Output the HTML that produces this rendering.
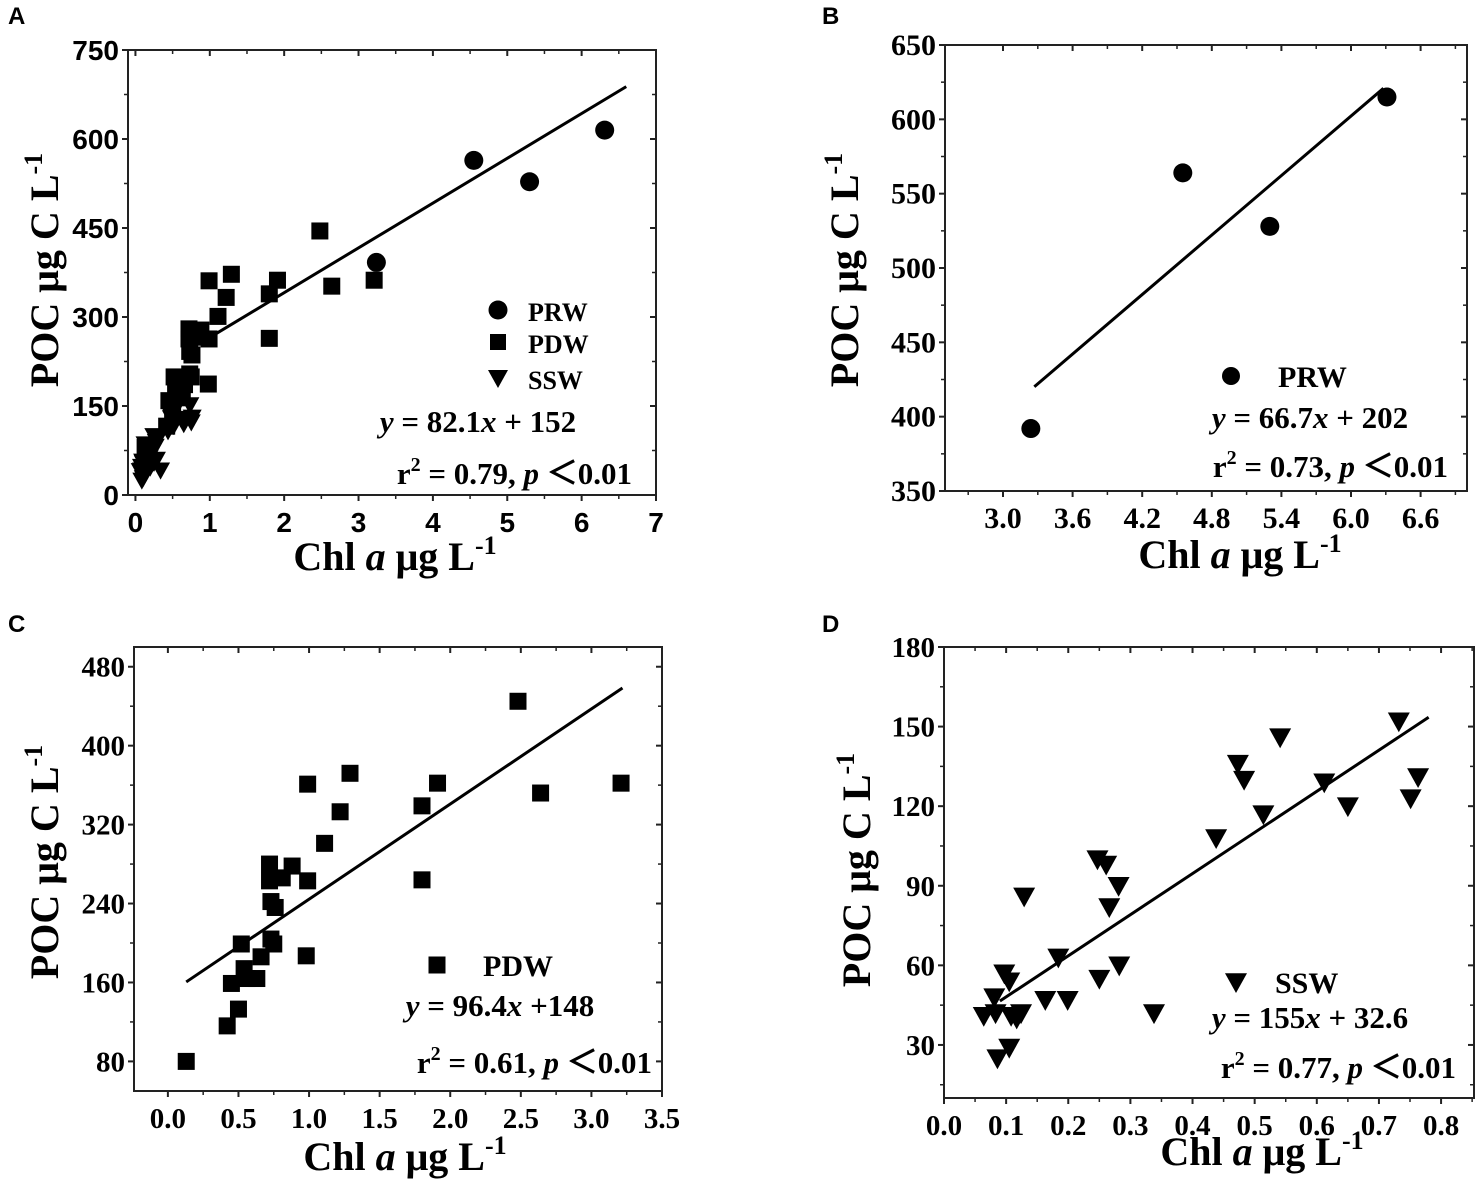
<!DOCTYPE html>
<html><head><meta charset="utf-8"><style>
body{margin:0;background:#fff;}
svg{display:block}
.serif{font-family:"Liberation Serif",serif;font-weight:bold}
.sans{font-family:"Liberation Sans",sans-serif;font-weight:bold}
</style></head><body>
<svg id="chart" width="1476" height="1184" viewBox="0 0 1476 1184" xmlns="http://www.w3.org/2000/svg"></svg>
<script>
// ---- data ----
const prwX = [3.24, 4.55, 5.30, 6.31];
const prwY = [392, 564, 528, 615];
const pdwX = [0.13,0.42,0.50,0.45,0.56,0.63,0.54,0.66,0.52,0.73,0.75,0.98,0.73,0.76,0.72,0.81,0.88,0.72,0.99,1.11,1.22,0.99,1.29,1.80,1.80,1.91,2.48,2.64,3.21];
const pdwY = [80,116,133,159,164,164,174,186,199,204,199,187,242,236,263,266,278,280,263,301,333,361,372,339,264,362,445,352,362];
const sswX = [0.064,0.083,0.108,0.124,0.117,0.081,0.097,0.105,0.086,0.105,0.129,0.163,0.199,0.184,0.250,0.282,0.266,0.247,0.261,0.281,0.338,0.438,0.473,0.483,0.514,0.541,0.612,0.650,0.732,0.751,0.763];
const sswY = [41,42,41,42,40,48,57,54,25,29,86,47,47,63,55,60,82,100,98,90,42,108,136,130,117,146,129,120,152,123,131];
const ticksA_x = ["0","1","2","3","4","5","6","7"];
const ticksA_y = ["0","150","300","450","600","750"];
const ticksB_x = ["3.0","3.6","4.2","4.8","5.4","6.0","6.6"];
const ticksB_y = ["350","400","450","500","550","600","650"];
const ticksC_x = ["0.0","0.5","1.0","1.5","2.0","2.5","3.0","3.5"];
const ticksC_y = ["80","160","240","320","400","480"];
const ticksD_x = ["0.0","0.1","0.2","0.3","0.4","0.5","0.6","0.7","0.8"];
const ticksD_y = ["30","60","90","120","150","180"];
const fitA = [75.5, 190, 1.0, 6.6];
const fitB = [66.7, 202, 3.27, 6.28];
const fitC = [96.4, 148, 0.13, 3.22];
const fitD = [155, 32.6, 0.09, 0.78];

const NS="http://www.w3.org/2000/svg";
const svg=document.getElementById('chart');
function mk(tag,attrs,parent){const e=document.createElementNS(NS,tag);for(const k in attrs)e.setAttribute(k,attrs[k]);(parent||svg).appendChild(e);return e;}

function panel(o){
  const g=mk('g',{});
  
  
  const sx=v=>o.x0+(v-o.xmin)/(o.xmax-o.xmin)*(o.x1-o.x0);
  const sy=v=>o.y1-(v-o.ymin)/(o.ymax-o.ymin)*(o.y1-o.y0);
  const box=mk('rect',{x:o.x0,y:o.y0,width:o.x1-o.x0,height:o.y1-o.y0,fill:'none',stroke:'#222','stroke-width':2},g);
  
  
  const tf=o.sans?'sans':'serif';
  o.xt.forEach((t,i)=>{
    const v=parseFloat(t), X=sx(v);
    mk('line',{x1:X,y1:o.y1,x2:X,y2:o.y1+6,stroke:'#222','stroke-width':2},g);
    mk('line',{x1:X,y1:o.y0,x2:X,y2:o.y0+6,stroke:'#222','stroke-width':2},g);
    const m=v+o.xs/2; if(m<o.xmax){const Xm=sx(m);
      mk('line',{x1:Xm,y1:o.y1,x2:Xm,y2:o.y1+4,stroke:'#222','stroke-width':1.5},g);
      mk('line',{x1:Xm,y1:o.y0,x2:Xm,y2:o.y0+4,stroke:'#222','stroke-width':1.5},g);}
    if(i===0){const Xm=sx(v-o.xs/2); if(Xm>o.x0){mk('line',{x1:Xm,y1:o.y1,x2:Xm,y2:o.y1+4,stroke:'#222','stroke-width':1.5},g);}}
    const tx=mk('text',{x:X,y:o.y1+37,'text-anchor':'middle','font-size':o.fs,class:tf},g);
    tx.textContent=t;
    
    
  });
  o.yt.forEach((t,i)=>{
    const v=parseFloat(t), Y=sy(v);
    mk('line',{x1:o.x0-6,y1:Y,x2:o.x0,y2:Y,stroke:'#222','stroke-width':2},g);
    mk('line',{x1:o.x1,y1:Y,x2:o.x1-6,y2:Y,stroke:'#222','stroke-width':2},g);
    const m=v+o.ys/2; if(m<o.ymax){const Ym=sy(m);
      mk('line',{x1:o.x0-4,y1:Ym,x2:o.x0,y2:Ym,stroke:'#222','stroke-width':1.5},g);
      mk('line',{x1:o.x1,y1:Ym,x2:o.x1-4,y2:Ym,stroke:'#222','stroke-width':1.5},g);}
    const m2=v-o.ys/2; if(i===0&&m2>o.ymin){const Ym=sy(m2);
      mk('line',{x1:o.x0-4,y1:Ym,x2:o.x0,y2:Ym,stroke:'#222','stroke-width':1.5},g);
      mk('line',{x1:o.x1,y1:Ym,x2:o.x1-4,y2:Ym,stroke:'#222','stroke-width':1.5},g);}
    const tx=mk('text',{x:o.x0-9,y:Y+10,'text-anchor':'end','font-size':o.fs,class:tf},g);
    tx.textContent=t;
    
    
  });
  const f=o.fit;
  const ln=mk('line',{x1:sx(f[2]),y1:sy(f[0]*f[2]+f[1]),x2:sx(f[3]),y2:sy(f[0]*f[3]+f[1]),stroke:'#000','stroke-width':3},g);
  
  
  o.series.forEach(s=>{
    s.xs.forEach((xv,i)=>{
      const X=sx(xv),Y=sy(s.ys[i]);
      const e=marker(s.shape,X,Y,s.size,g);
      
      
    });
  });
  const xt=mk('text',{x:o.xtx,y:o.xty,'text-anchor':'middle','font-size':40,class:'serif'},g);
  xt.innerHTML='Chl <tspan font-style="italic">a</tspan> μg L<tspan font-size="26" dy="-16">-1</tspan>';
  
  
  const yt=mk('text',{x:0,y:0,'text-anchor':'middle','font-size':40,class:'serif',transform:`translate(${o.ytx},${o.yty}) rotate(-90)`},g);
  yt.innerHTML='POC μg C L<tspan font-size="26" dy="-16">-1</tspan>';
  
  
  const pl=mk('text',{x:o.lx,y:o.ly,'font-size':24,class:'sans'},g);
  pl.textContent=o.id;
  
  
  return g;
}
function marker(shape,X,Y,s,g){
  if(shape==='circle') return mk('circle',{cx:X,cy:Y,r:s/2,fill:'#000'},g);
  if(shape==='square') return mk('rect',{x:X-s/2,y:Y-s/2,width:s,height:s,fill:'#000'},g);
  return mk('polygon',{points:`${X-s/2},${Y-s*0.4} ${X+s/2},${Y-s*0.4} ${X},${Y+s*0.5}`,fill:'#000'},g);
}
function txt(x,y,html,size,anchor,name){
  const t=mk('text',{x:x,y:y,'font-size':size,class:'serif','text-anchor':anchor||'start'});
  t.innerHTML=html;
  
  
}

panel({id:'A',x0:128,x1:656,y0:50,y1:495,xmin:-0.1,xmax:7,ymin:0,ymax:750,xs:1,ys:150,xt:ticksA_x,yt:ticksA_y,sans:true,fs:28,fit:fitA,
  series:[{name:'prw',shape:'circle',size:19,xs:prwX,ys:prwY},{name:'pdw',shape:'square',size:17,xs:pdwX,ys:pdwY},{name:'ssw',shape:'tri',size:19,xs:sswX,ys:sswY}],
  xtx:395,xty:570,ytx:58,yty:270,lx:8,ly:24});
panel({id:'B',x0:945,x1:1467,y0:45,y1:491,xmin:2.5,xmax:7.0,ymin:350,ymax:650,xs:0.6,ys:50,xt:ticksB_x,yt:ticksB_y,fs:30,fit:fitB,
  series:[{name:'prw',shape:'circle',size:19,xs:prwX,ys:prwY}],
  xtx:1240,xty:568,ytx:858,yty:270,lx:822,ly:24});
panel({id:'C',x0:134,x1:662,y0:647,y1:1091,xmin:-0.24,xmax:3.5,ymin:50,ymax:500,xs:0.5,ys:80,xt:ticksC_x,yt:ticksC_y,fs:29,fit:fitC,
  series:[{name:'pdw',shape:'square',size:17,xs:pdwX,ys:pdwY}],
  xtx:405,xty:1170,ytx:58,yty:862,lx:8,ly:632});
panel({id:'D',x0:944,x1:1474,y0:647,y1:1098,xmin:0,xmax:0.853,ymin:10,ymax:180,xs:0.1,ys:30,xt:ticksD_x,yt:ticksD_y,fs:29,fit:fitD,
  series:[{name:'ssw',shape:'tri',size:22,xs:sswX,ys:sswY}],
  xtx:1262,xty:1165,ytx:870,yty:870,lx:822,ly:632});

marker('circle',498,310,19);
marker('square',498,342,16);
marker('tri',498,378,20);
txt(528,321,'PRW',26,'start','legend-prw');
txt(528,353,'PDW',26,'start','legend-pdw');
txt(528,389,'SSW',26,'start','legend-ssw');
txt(478,432,'<tspan font-style="italic">y</tspan> = 82.1<tspan font-style="italic">x</tspan> + 152',31,'middle','equation-a');
txt(632,484,'r<tspan font-size="20" dy="-13">2</tspan><tspan dy="13"> = 0.79, </tspan><tspan font-style="italic">p</tspan>  ＜0.01',31,'end','stats-a');

marker('circle',1231,376,18);
txt(1278,387,'PRW',30,'start','legend-prw-b');
txt(1310,428,'<tspan font-style="italic">y</tspan> = 66.7<tspan font-style="italic">x</tspan> + 202',31,'middle','equation-b');
txt(1448,477,'r<tspan font-size="20" dy="-13">2</tspan><tspan dy="13"> = 0.73, </tspan><tspan font-style="italic">p</tspan>  ＜0.01',31,'end','stats-b');

marker('square',437,965,17);
txt(483,976,'PDW',30,'start','legend-pdw-c');
txt(500,1016,'<tspan font-style="italic">y</tspan> = 96.4<tspan font-style="italic">x</tspan> +148',31,'middle','equation-c');
txt(652,1073,'r<tspan font-size="20" dy="-13">2</tspan><tspan dy="13"> = 0.61, </tspan><tspan font-style="italic">p</tspan>  ＜0.01',31,'end','stats-c');

marker('tri',1236,982,22);
txt(1275,993,'SSW',30,'start','legend-ssw-d');
txt(1310,1028,'<tspan font-style="italic">y</tspan> = 155<tspan font-style="italic">x</tspan> + 32.6',31,'middle','equation-d');
txt(1456,1078,'r<tspan font-size="20" dy="-13">2</tspan><tspan dy="13"> = 0.77, </tspan><tspan font-style="italic">p</tspan>  ＜0.01',31,'end','stats-d');
</script>
</body></html>
